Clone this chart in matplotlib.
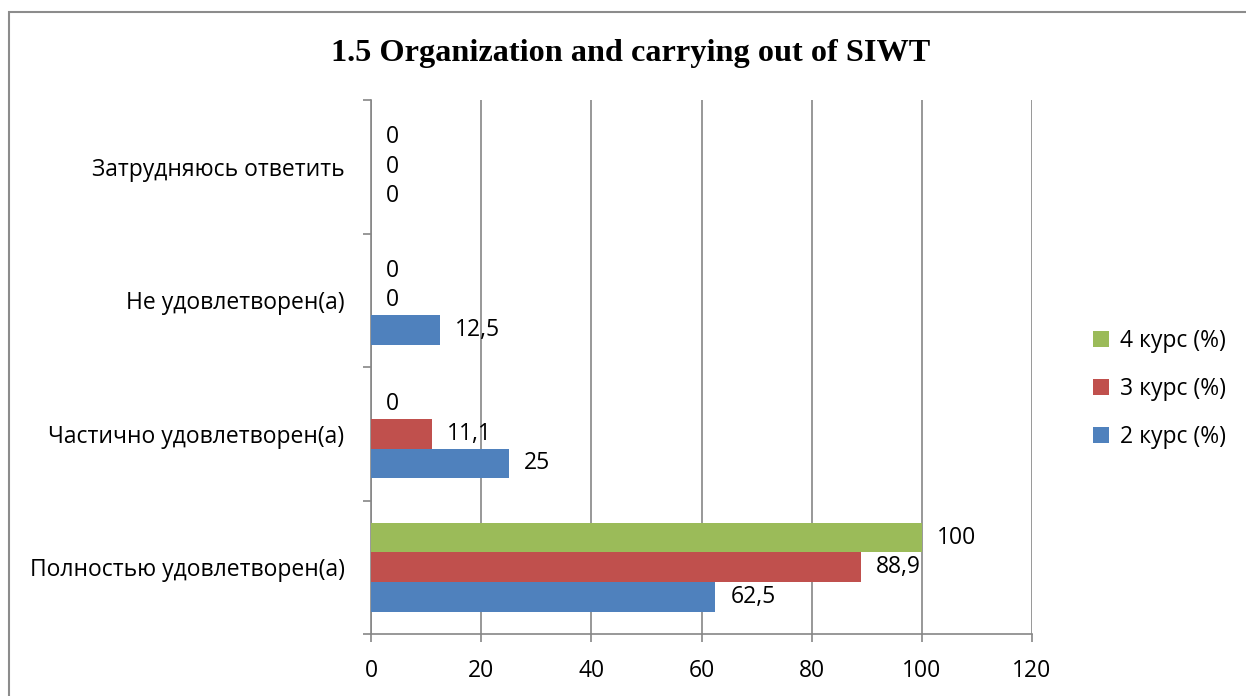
import matplotlib

matplotlib.use("Agg")
import matplotlib.pyplot as plt
import numpy as np
from matplotlib.patches import Rectangle

plt.rcParams["font.family"] = ["Open Sans", "DejaVu Sans"]

# --- data ---
categories = [
    "Полностью удовлетворен(а)",
    "Частично удовлетворен(а)",
    "Не удовлетворен(а)",
    "Затрудняюсь ответить",
]
series_names = ["2 курс (%)", "3 курс (%)", "4 курс (%)"]
course2 = [62.5, 25, 12.5, 0]
course3 = [88.9, 11.1, 0, 0]
course4 = [100, 0, 0, 0]
colors = ["#4F81BD", "#C0504D", "#9BBB59"]
x_ticks = [0, 20, 40, 60, 80, 100, 120]
title = "1.5 Organization and carrying out of SIWT"

W, H = 1246, 696
FS = 16.5
fig = plt.figure(figsize=(W / 100, H / 100), dpi=100)
ax = fig.add_axes([371 / W, 1 - 634 / H, (1032 - 371) / W, (634 - 100) / H])

grid_c = "#868686"


def fmt(v):
    s = f"{v:g}"
    return s.replace(".", ",")


bar_h = 1 / 4.5
y = np.arange(len(categories))
for i, (vals, name, col) in enumerate(zip([course2, course3, course4], series_names, colors)):
    pos = y + (i - 1) * bar_h
    ax.barh(pos, vals, height=bar_h, color=col, label=name, zorder=3)
    for p, v in zip(pos, vals):
        ax.annotate(fmt(v), (v, p), xytext=(15, 0), textcoords="offset pixels",
                    ha="left", va="center", fontsize=FS, color="black")

ax.set_xlim(0, 120)
ax.set_ylim(-0.5, len(categories) - 0.5)
ax.set_xticks(x_ticks)
ax.set_xticklabels([str(t) for t in x_ticks], fontsize=FS)
ax.set_yticks(y)
ax.set_yticklabels(categories, fontsize=FS)
ax.set_yticks(np.arange(-0.5, len(categories)), minor=True)

ax.tick_params(axis="y", which="major", length=0, pad=19)
ax.tick_params(axis="y", which="minor", length=6, color=grid_c, width=1.2)
ax.tick_params(axis="x", length=6, color=grid_c, width=1.2, pad=12)

ax.grid(axis="x", color=grid_c, linewidth=1.2, zorder=0)
for side in ["top", "right"]:
    ax.spines[side].set_visible(False)
for side in ["left", "bottom"]:
    ax.spines[side].set_color(grid_c)
    ax.spines[side].set_linewidth(1.2)

fig.text(631 / W, 1 - 53 / H, title, ha="center", va="center",
         fontsize=23.2, fontweight="bold", family="Liberation Serif")

handles, labels = ax.get_legend_handles_labels()
fig.legend(handles[::-1], labels[::-1], loc="center left",
           bbox_to_anchor=(1072 / W, 1 - 389 / H), frameon=False,
           fontsize=FS, handlelength=0.7, handleheight=0.7,
           handletextpad=0.5, labelspacing=1.05)

fig.add_artist(Rectangle((9 / W, -0.1), 1.2, 1 - 12 / H + 0.1,
                         transform=fig.transFigure, fill=False,
                         edgecolor="#8c8c8c", linewidth=1.5))

fig.savefig("out.png", dpi=100)
plt.close(fig)
